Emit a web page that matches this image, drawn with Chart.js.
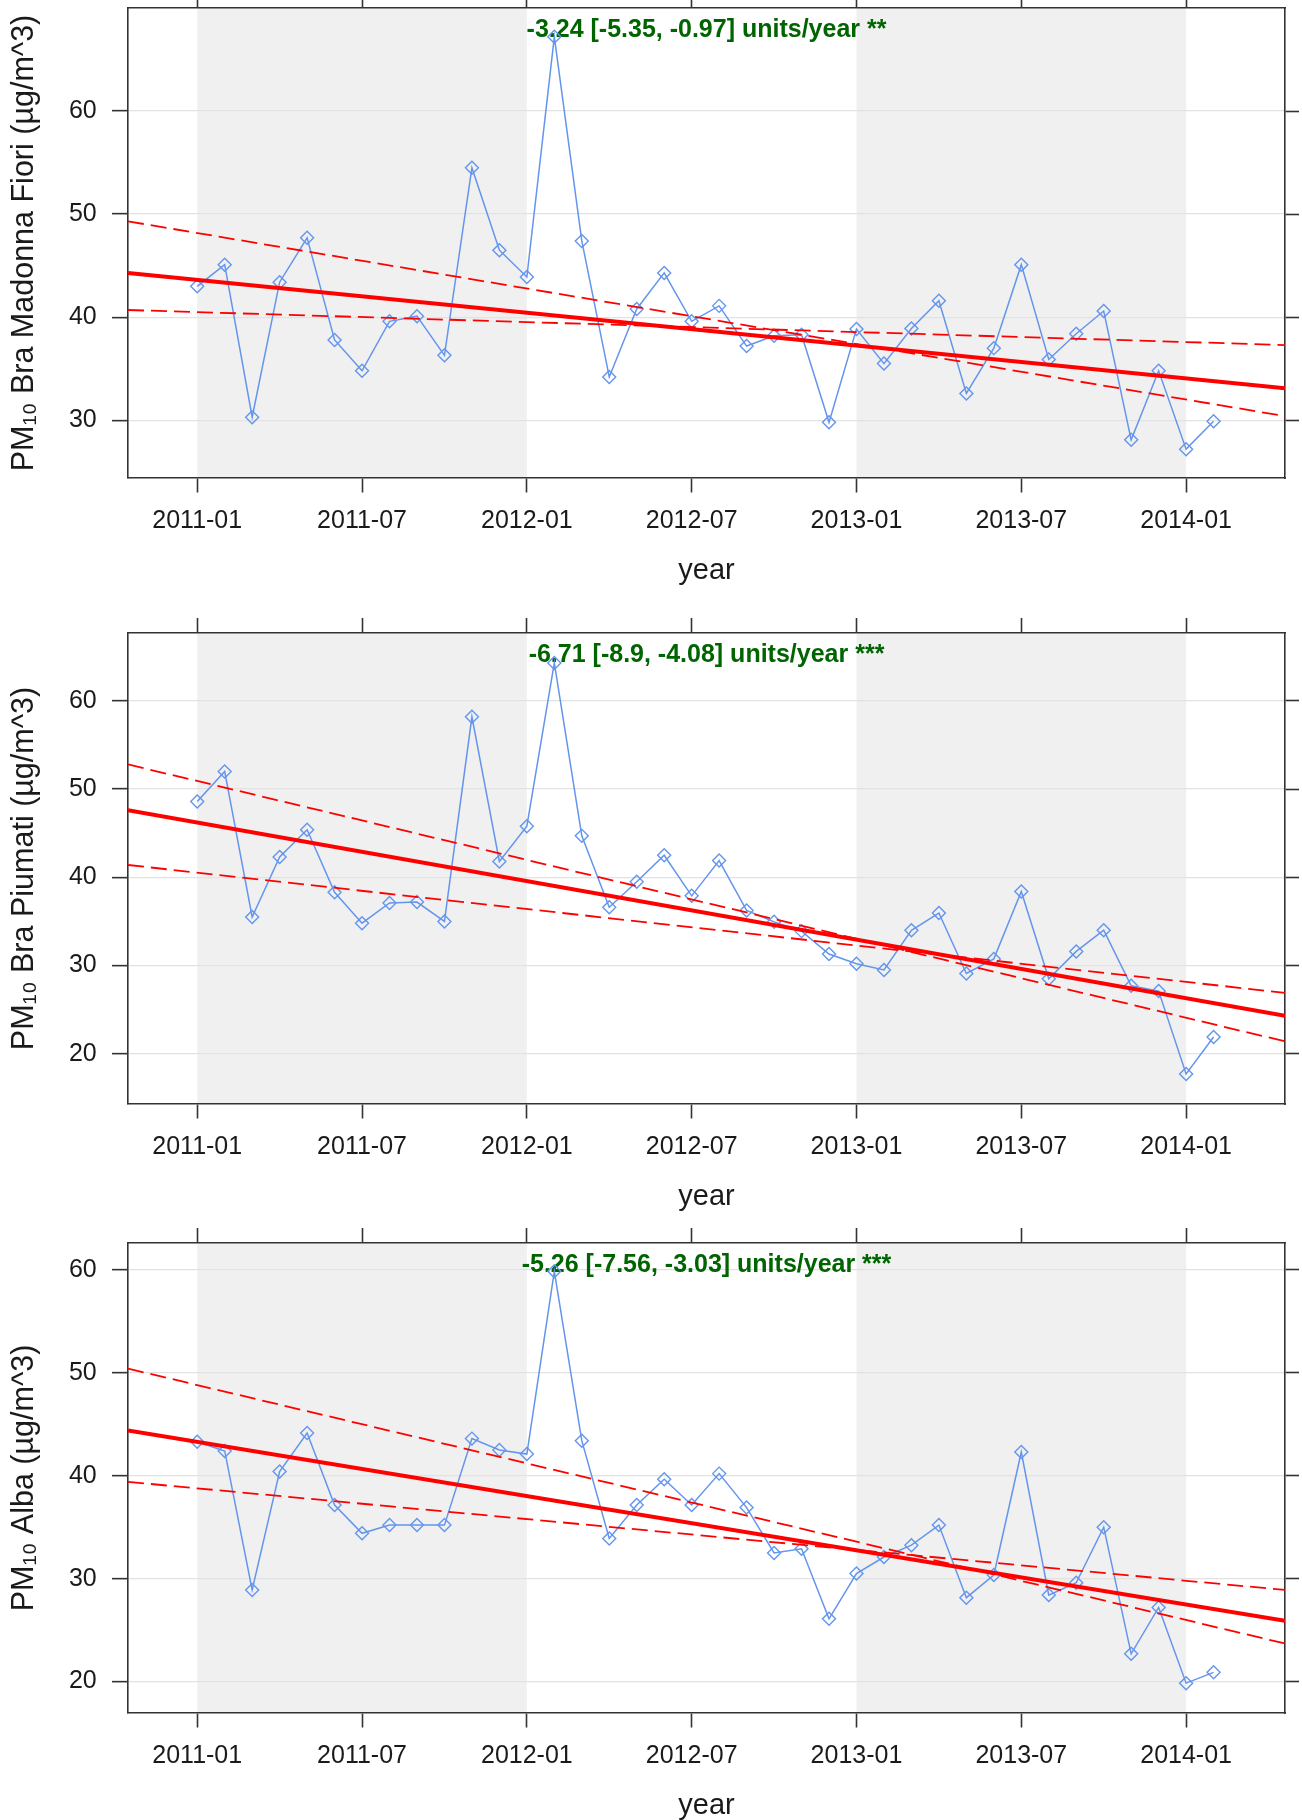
<!DOCTYPE html>
<html>
<head>
<meta charset="utf-8">
<script src="https://cdn.jsdelivr.net/npm/chart.js@4.4.1/dist/chart.umd.min.js"></script>
<style>
html,body{margin:0;padding:0;background:#fff;width:1302px;height:1820px;overflow:hidden;position:relative}
canvas{position:absolute;left:0}
</style>
</head>
<body>
<canvas id="c1" width="1302" height="610" style="top:-12px"></canvas>
<canvas id="c2" width="1302" height="611" style="top:613px"></canvas>
<canvas id="c3" width="1302" height="610" style="top:1223px"></canvas>
<script>
// ---------------- data ----------------
const months = [
  '2011-01','2011-02','2011-03','2011-04','2011-05','2011-06','2011-07','2011-08','2011-09','2011-10','2011-11','2011-12',
  '2012-01','2012-02','2012-03','2012-04','2012-05','2012-06','2012-07','2012-08','2012-09','2012-10','2012-11','2012-12',
  '2013-01','2013-02','2013-03','2013-04','2013-05','2013-06','2013-07','2013-08','2013-09','2013-10','2013-11','2013-12',
  '2014-01','2014-02'
];
const xTickLabels = ['2011-01','2011-07','2012-01','2012-07','2013-01','2013-07','2014-01'];
const shadedPeriods = [['2011-01','2012-01'],['2013-01','2014-01']];
const xAxisRange = [-2.52, 39.6];   // months relative to 2011-01

const madonnaFiori = [43.0,45.1,30.3,43.4,47.7,37.8,34.8,39.6,40.1,36.3,54.5,46.5,
  43.9,67.2,47.4,34.2,40.8,44.3,39.6,41.1,37.2,38.2,38.3,29.8,
  38.85,35.5,38.9,41.6,32.6,37.0,45.1,35.9,38.4,40.6,28.1,34.8,
  27.2,29.9];
const piumati = [48.6,52.0,35.5,42.3,45.4,38.3,34.8,37.1,37.2,35.0,58.2,41.8,
  45.8,64.3,44.7,36.6,39.5,42.5,37.9,41.9,36.25,34.95,33.9,31.3,
  30.2,29.5,34.0,35.95,29.1,30.75,38.4,28.5,31.6,34.0,27.7,27.1,
  17.7,21.9];
const alba = [43.3,42.4,28.9,40.4,44.15,37.15,34.4,35.2,35.2,35.2,43.6,42.5,
  42.1,59.85,43.4,33.9,37.15,39.65,37.15,40.2,36.9,32.5,32.9,26.1,
  30.5,32.1,33.25,35.2,28.15,30.35,42.3,28.4,29.6,35.0,22.7,27.2,
  19.85,20.9];

// trend lines: values at the left and right edge of the panel
const trendMadonnaFiori = [44.3, 33.1];
const ciSteepMadonnaFiori = [49.3, 30.4];
const ciFlatMadonnaFiori = [40.7, 37.3];
const trendPiumati = [47.6, 24.3];
const ciSteepPiumati = [52.8, 21.4];
const ciFlatPiumati = [41.4, 26.9];
const trendAlba = [44.4, 25.9];
const ciSteepAlba = [50.4, 23.7];
const ciFlatAlba = [39.4, 28.9];

const yRangeMadonnaFiori = [24.4, 70.0];
const yRangePiumati = [14.3, 67.7];
const yRangeAlba = [16.95, 62.6];
const yTicksMadonnaFiori = [30, 40, 50, 60];
const yTicksPiumati = [20, 30, 40, 50, 60];
const yTicksAlba = [20, 30, 40, 50, 60];

const yTitles = ['PM\u2081\u2080 Bra Madonna Fiori (\u00b5g/m^3)', 'PM\u2081\u2080 Bra Piumati (\u00b5g/m^3)', 'PM\u2081\u2080 Alba (\u00b5g/m^3)'];
const trendTexts = ['-3.24 [-5.35, -0.97] units/year **', '-6.71 [-8.9, -4.08] units/year ***', '-5.26 [-7.56, -3.03] units/year ***'];
const xTitle = 'year';

// ---------------- helpers ----------------
function monthIndex(s){ const [y,m] = s.split('-').map(Number); return (y-2011)*12 + (m-1); }
const xTickValues = xTickLabels.map(monthIndex);

function fontAvailable(name){
  const ctx = document.createElement('canvas').getContext('2d');
  const s = '2011-01 year 0123456789';
  ctx.font = '72px monospace'; const w1 = ctx.measureText(s).width;
  ctx.font = '72px "' + name + '", monospace'; const w2 = ctx.measureText(s).width;
  return Math.abs(w1 - w2) > 0.5;
}
const narrow = fontAvailable('Liberation Sans Narrow');
const tickFont = narrow ? {family:'"Liberation Sans Narrow"', size:29} : {family:'"Liberation Sans", Arial, sans-serif', size:25};
const titleFamily = '"Liberation Sans", Arial, sans-serif';

const INK = '#1a1a1a';
const FRAME = '#333333';

const bandPlugin = {
  id: 'bands',
  beforeDraw(chart){
    const {ctx, chartArea:a, scales:{x}} = chart;
    ctx.save();
    ctx.fillStyle = '#f0f0f0';
    for (const [s,e] of shadedPeriods){
      const x0 = x.getPixelForValue(monthIndex(s));
      const x1 = x.getPixelForValue(monthIndex(e));
      ctx.fillRect(x0, a.top, x1 - x0, a.bottom - a.top);
    }
    ctx.restore();
  }
};
const trendLabelPlugin = {
  id: 'trendLabel',
  beforeDatasetsDraw(chart, args, opts){
    const {ctx, chartArea:a} = chart;
    ctx.save();
    ctx.font = 'bold 25px ' + titleFamily;
    ctx.fillStyle = '#006400';
    ctx.textAlign = 'center';
    ctx.textBaseline = 'middle';
    ctx.fillText(opts.text, (a.left + a.right) / 2, a.top + 22);
    ctx.restore();
  }
};

function zeroPad(s){ s.paddingLeft = 0; s.paddingRight = 0; s.paddingTop = 0; s.paddingBottom = 0; }

function makeChart(id, values, trend, ciSteep, ciFlat, yRange, yTicks, yTitle, text){
  const edge = (arr) => [{x:xAxisRange[0], y:arr[0]}, {x:xAxisRange[1], y:arr[1]}];
  const tickGrid = {drawOnChartArea:false, drawTicks:true, tickColor:FRAME, tickWidth:1.6};
  return new Chart(document.getElementById(id), {
    type: 'line',
    data: {
      datasets: [
        {data: edge(trend), borderColor:'#ff0000', borderWidth:4, pointRadius:0, order:0},
        {data: edge(ciSteep), borderColor:'#ff0000', borderWidth:1.8, borderDash:[16,7], pointRadius:0, order:1},
        {data: edge(ciFlat), borderColor:'#ff0000', borderWidth:1.8, borderDash:[16,7], pointRadius:0, order:2},
        {data: values.map((v,i) => ({x: monthIndex(months[i]), y: v})),
         borderColor:'#6495ED', borderWidth:1.5, pointStyle:'rectRot', pointRadius:6.5,
         pointBorderColor:'#6495ED', pointBorderWidth:1.4, pointBackgroundColor:'rgba(0,0,0,0)', order:3}
      ]
    },
    options: {
      responsive: false,
      animation: false,
      devicePixelRatio: 1,
      layout: {padding: 0, autoPadding: false},
      plugins: {legend:{display:false}, tooltip:{enabled:false}, trendLabel:{text}},
      scales: {
        x: {
          type:'linear', position:'bottom', min:xAxisRange[0], max:xAxisRange[1],
          afterBuildTicks: s => { s.ticks = xTickValues.map(v => ({value:v})); },
          afterFit: s => { s.height = 120; zeroPad(s); },
          ticks: {autoSkip:false, maxRotation:0, minRotation:0, padding:14, font:tickFont, color:INK,
                  callback: v => { const k = xTickValues.indexOf(v); return k >= 0 ? xTickLabels[k] : ''; }},
          grid: Object.assign({tickLength:14.5}, tickGrid),
          border: {display:true, color:FRAME, width:1.6},
          title: {display:true, text:xTitle, color:INK, font:{family:titleFamily, size:29}, padding:{top:0, bottom:10}}
        },
        x2: {
          type:'linear', position:'top', min:xAxisRange[0], max:xAxisRange[1],
          afterBuildTicks: s => { s.ticks = xTickValues.map(v => ({value:v})); },
          afterFit: s => { s.height = 20; zeroPad(s); },
          ticks: {display:false},
          grid: Object.assign({tickLength:15}, tickGrid),
          border: {display:true, color:FRAME, width:1.6}
        },
        y: {
          type:'linear', position:'left', min:yRange[0], max:yRange[1],
          afterBuildTicks: s => { s.ticks = yTicks.map(v => ({value:v})); },
          afterFit: s => { s.width = 128; zeroPad(s); },
          ticks: {padding:15.3, font:tickFont, color:INK, callback: v => String(v)},
          grid: {drawOnChartArea:true, color:'#e2e2e2', lineWidth:1.3, drawTicks:true, tickLength:16, tickColor:FRAME, tickWidth:1.6},
          border: {display:true, color:FRAME, width:1.6},
          title: {display:true, text:yTitle, color:INK, font:{family:titleFamily, size:30.5}, padding:{top:6.4, bottom:0}}
        },
        y2: {
          type:'linear', position:'right', min:yRange[0], max:yRange[1],
          afterBuildTicks: s => { s.ticks = yTicks.map(v => ({value:v})); },
          afterFit: s => { s.width = 17; zeroPad(s); },
          ticks: {display:false},
          grid: Object.assign({tickLength:14}, tickGrid),
          border: {display:true, color:FRAME, width:1.6}
        }
      }
    },
    plugins: [bandPlugin, trendLabelPlugin]
  });
}

makeChart('c1', madonnaFiori, trendMadonnaFiori, ciSteepMadonnaFiori, ciFlatMadonnaFiori, yRangeMadonnaFiori, yTicksMadonnaFiori, yTitles[0], trendTexts[0]);
makeChart('c2', piumati, trendPiumati, ciSteepPiumati, ciFlatPiumati, yRangePiumati, yTicksPiumati, yTitles[1], trendTexts[1]);
makeChart('c3', alba, trendAlba, ciSteepAlba, ciFlatAlba, yRangeAlba, yTicksAlba, yTitles[2], trendTexts[2]);
</script>
</body>
</html>
